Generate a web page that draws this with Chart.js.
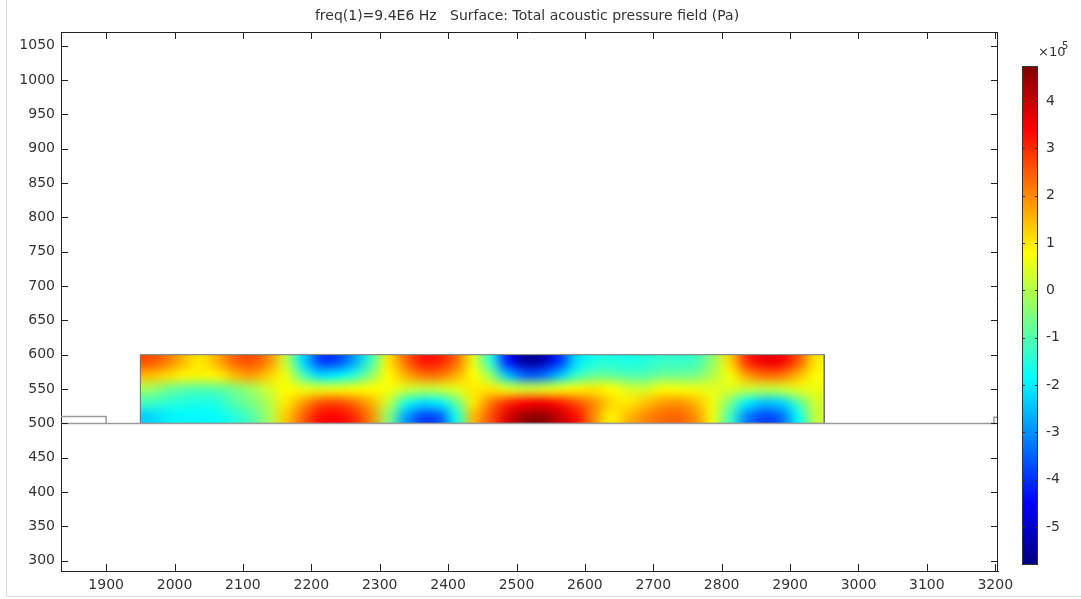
<!DOCTYPE html>
<html>
<head>
<meta charset="utf-8">
<script src="https://cdn.jsdelivr.net/npm/chart.js@4/dist/chart.umd.min.js"></script>
<style>
  body { margin: 0; background: #fff; }
  #wrap { position: relative; width: 1081px; height: 599px; overflow: hidden; }
  #frame { position: absolute; left: 6px; top: 0; width: 1075px; height: 597px;
           border-left: 1px solid #dcdcdc; border-bottom: 1px solid #dcdcdc; box-sizing: border-box; }
  #mainChart { position: absolute; left: 0; top: 0; }
  #cbChart { position: absolute; left: 1000px; top: 0; }
</style>
</head>
<body>
<div id="wrap">
  <div id="frame"></div>
  <canvas id="mainChart" width="1081" height="599"></canvas>
  <canvas id="cbChart" width="81" height="599"></canvas>
</div>
<script>
// axis ticks
const xTicks = [1900, 2000, 2100, 2200, 2300, 2400, 2500, 2600, 2700, 2800, 2900, 3000, 3100, 3200];
const yTicks = [300, 350, 400, 450, 500, 550, 600, 650, 700, 750, 800, 850, 900, 950, 1000, 1050];
const cbTicks = [-5, -4, -3, -2, -1, 0, 1, 2, 3, 4];

// pressure field samples (x1e5 Pa), cell centres in x and y
const colCenters = [1962.5, 1987.5, 2012.5, 2037.5, 2062.5, 2087.5, 2112.5, 2137.5, 2162.5, 2187.5,
                    2212.5, 2237.5, 2262.5, 2287.5, 2312.5, 2337.5, 2362.5, 2387.5, 2412.5, 2437.5,
                    2462.5, 2487.5, 2512.5, 2537.5, 2562.5, 2587.5, 2612.5, 2637.5, 2662.5, 2687.5,
                    2712.5, 2737.5, 2762.5, 2787.5, 2812.5, 2837.5, 2862.5, 2887.5, 2912.5, 2937.5];
const rowCenters = [590, 570, 550, 530, 510];

const p590 = [2.6, 2.2, 1.5, 1.0, 1.6, 2.4, 2.6, 2.0, 0.2, -2.2, -3.8, -3.8, -2.8, -1.2, 1.0, 2.3, 3.2, 3.1, 2.3, 0.5,
              -1.4, -4.2, -5.5, -5.3, -4.0, -2.2, -1.6, -1.5, -1.6, -1.5, -1.3, -1.3, -1.2, -0.3, 1.2, 3.0, 3.6, 3.5, 2.5, 1.0];
const p570 = [1.5, 1.2, 0.9, 0.9, 0.9, 1.5, 1.8, 1.3, 0.6, -1.0, -2.2, -2.0, -1.4, -0.4, 0.8, 1.6, 2.2, 2.2, 1.6, 0.8,
              -0.3, -2.5, -3.5, -3.4, -2.5, -1.3, -0.8, -0.8, -1.0, -1.0, -0.7, -0.7, -0.6, 0.0, 0.7, 1.8, 2.3, 2.2, 1.5, 0.8];
const p550 = [-0.2, -0.6, -0.9, -1.0, -0.9, -0.6, -0.2, 0.3, 0.8, 0.6, 0.5, 0.6, 0.7, 0.8, 0.7, 0.3, 0.1, 0.2, 0.5, 1.0,
              1.0, 0.5, 0.3, 0.4, 0.6, 0.9, 1.0, 0.8, 0.4, 0.3, 0.7, 0.7, 0.6, 0.5, 0.4, 0.2, 0.1, 0.2, 0.5, 0.6];
const p530 = [-1.2, -1.4, -1.5, -1.6, -1.5, -1.0, -0.6, 0.0, 1.0, 1.8, 2.6, 2.7, 2.3, 1.6, 0.2, -1.5, -2.2, -2.0, -0.8, 1.0,
              2.2, 3.0, 3.4, 3.5, 3.2, 2.6, 2.0, 1.2, 1.0, 1.4, 1.8, 1.9, 1.5, 0.6, -0.6, -2.0, -2.5, -2.3, -1.0, 0.3];
const p510 = [-2.3, -2.0, -1.9, -1.9, -1.8, -1.5, -1.0, -0.2, 1.3, 2.4, 3.3, 3.4, 3.0, 2.0, -0.4, -2.8, -3.8, -3.6, -1.6, 1.5,
              2.6, 3.8, 4.5, 4.6, 4.0, 3.3, 2.0, 0.9, 1.5, 2.0, 2.3, 2.4, 1.9, 0.6, -1.2, -3.2, -3.8, -3.4, -1.8, 0.2];
const fieldRows = [p590, p570, p550, p530, p510];

// colour range of the legend (x1e5 Pa)
const cMin = -5.8, cMax = 4.74;

// geometry outlines
const domainX = [1950, 1950, 2950, 2950, 1950];
const domainY = [500, 600, 600, 500, 500];
const baseX = [1834, 3204];
const baseY = [500, 500];
const inletX = [1834, 1900, 1900];
const inletY = [510, 510, 500];
const outletX = [3198, 3198, 3204];
const outletY = [500, 509, 509];

Chart.defaults.font.family = '"DejaVu Sans", sans-serif';
Chart.defaults.font.size = 14;
Chart.defaults.color = '#333';

function jet(v) {
    const t = Math.min(1, Math.max(0, (v - cMin) / (cMax - cMin)));
    const c = k => Math.round(255 * Math.min(1, Math.max(0, 1.5 - Math.abs(4 * t - k))));
    return [c(3), c(2), c(1)];
}

const pts = (xs, ys) => xs.map((x, i) => ({ x: x, y: ys[i] }));

// small image of the field, one pixel per cell
const fieldImg = document.createElement('canvas');
fieldImg.width = colCenters.length;
fieldImg.height = rowCenters.length;
(() => {
    const g = fieldImg.getContext('2d');
    const img = g.createImageData(fieldImg.width, fieldImg.height);
    fieldRows.forEach((row, r) => row.forEach((v, c) => {
        const [R, G, B] = jet(v);
        const k = (r * fieldImg.width + c) * 4;
        img.data[k] = R; img.data[k + 1] = G; img.data[k + 2] = B; img.data[k + 3] = 255;
    }));
    g.putImageData(img, 0, 0);
})();

const fieldPlugin = {
    id: 'field',
    beforeDatasetsDraw(chart) {
        const { ctx, scales: { x, y } } = chart;
        const hx = (colCenters[1] - colCenters[0]) / 2;
        const hy = (rowCenters[0] - rowCenters[1]) / 2;
        const x0 = x.getPixelForValue(colCenters[0] - hx);
        const x1 = x.getPixelForValue(colCenters[colCenters.length - 1] + hx);
        const y0 = y.getPixelForValue(rowCenters[0] + hy);
        const y1 = y.getPixelForValue(rowCenters[rowCenters.length - 1] - hy);
        ctx.save();
        ctx.imageSmoothingEnabled = true;
        ctx.imageSmoothingQuality = 'high';
        ctx.drawImage(fieldImg, x0, y0, x1 - x0, y1 - y0);
        ctx.restore();
    }
};

const frameTicks = {
    id: 'frameTicks',
    afterDraw(chart) {
        const { ctx, chartArea: a, scales: { x, y } } = chart;
        ctx.save();
        ctx.strokeStyle = '#222';
        ctx.lineWidth = 1;
        ctx.beginPath();
        ctx.moveTo(a.left, a.top + 0.5); ctx.lineTo(a.right, a.top + 0.5);
        ctx.moveTo(a.right - 0.5, a.top); ctx.lineTo(a.right - 0.5, a.bottom);
        x.ticks.forEach(t => {
            const px = Math.round(x.getPixelForValue(t.value)) + 0.5;
            ctx.moveTo(px, a.bottom); ctx.lineTo(px, a.bottom - 7);
            ctx.moveTo(px, a.top); ctx.lineTo(px, a.top + 7);
        });
        y.ticks.forEach(t => {
            const py = Math.round(y.getPixelForValue(t.value)) + 0.5;
            ctx.moveTo(a.left, py); ctx.lineTo(a.left + 7, py);
            ctx.moveTo(a.right, py); ctx.lineTo(a.right - 7, py);
        });
        ctx.stroke();
        // title
        ctx.fillStyle = '#333';
        ctx.font = '14px "DejaVu Sans", sans-serif';
        ctx.textAlign = 'center';
        ctx.textBaseline = 'middle';
        ctx.fillText('freq(1)=9.4E6 Hz   Surface: Total acoustic pressure field (Pa)', 527, 16);
        ctx.restore();
    }
};

const line = (data, color, width) => ({
    data: data, showLine: true, pointRadius: 0, borderColor: color, borderWidth: width, fill: false
});

new Chart(document.getElementById('mainChart'), {
    type: 'scatter',
    data: {
        datasets: [
            line(pts(baseX, baseY), '#9a9a9a', 1.5),
            line(pts(inletX, inletY), '#9a9a9a', 1.5),
            line(pts(outletX, outletY), '#9a9a9a', 1.5),
            line(pts(domainX, domainY), '#707070', 1)
        ]
    },
    options: {
        responsive: false,
        animation: false,
        layout: { padding: { left: 0, top: 32, right: 83, bottom: 0 } },
        plugins: { legend: { display: false }, tooltip: { enabled: false } },
        scales: {
            x: {
                type: 'linear', min: 1834, max: 3204,
                grid: { display: false, drawTicks: false },
                border: { display: true, color: '#222' },
                ticks: { padding: 6, callback: v => String(v) },
                afterBuildTicks: s => { s.ticks = xTicks.map(v => ({ value: v })); },
                afterFit: s => { s.height = 28; }
            },
            y: {
                type: 'linear', min: 285, max: 1070,
                grid: { display: false, drawTicks: false },
                border: { display: true, color: '#222' },
                ticks: { padding: 6, callback: v => String(v) },
                afterBuildTicks: s => { s.ticks = yTicks.map(v => ({ value: v })); },
                afterFit: s => { s.width = 61; }
            }
        }
    },
    plugins: [fieldPlugin, frameTicks]
});

// colour legend
const cbPlugin = {
    id: 'cbar',
    beforeDatasetsDraw(chart) {
        const { ctx, chartArea: a, scales: { y } } = chart;
        const yb = y.getPixelForValue(cMin), yt = y.getPixelForValue(cMax);
        const grad = ctx.createLinearGradient(0, yb, 0, yt);
        for (let i = 0; i <= 40; i++) {
            const [r, g, b] = jet(cMin + (cMax - cMin) * i / 40);
            grad.addColorStop(i / 40, `rgb(${r},${g},${b})`);
        }
        ctx.save();
        ctx.fillStyle = grad;
        ctx.fillRect(a.left, yt, a.right - a.left, yb - yt);
        ctx.strokeStyle = '#333';
        ctx.lineWidth = 1;
        ctx.strokeRect(a.left + 0.5, yt + 0.5, a.right - a.left - 1, yb - yt - 1);
        ctx.beginPath();
        y.ticks.forEach(t => {
            const py = Math.round(y.getPixelForValue(t.value)) + 0.5;
            ctx.moveTo(a.left, py); ctx.lineTo(a.left + 3, py);
            ctx.moveTo(a.right, py); ctx.lineTo(a.right - 3, py);
        });
        ctx.stroke();
        ctx.fillStyle = '#333';
        ctx.textBaseline = 'alphabetic';
        ctx.textAlign = 'left';
        ctx.font = '13px "DejaVu Sans", sans-serif';
        ctx.fillText('\u00d710', 38, 56);
        ctx.font = '10px "DejaVu Sans", sans-serif';
        ctx.fillText('5', 62, 49);
        ctx.restore();
    }
};

new Chart(document.getElementById('cbChart'), {
    type: 'scatter',
    data: { datasets: [{ data: [] }] },
    options: {
        responsive: false,
        animation: false,
        layout: { padding: { left: 22, top: 66, right: 0, bottom: 34 } },
        plugins: { legend: { display: false }, tooltip: { enabled: false } },
        scales: {
            x: { display: false, min: 0, max: 1 },
            y: {
                position: 'right', type: 'linear', min: cMin, max: cMax,
                grid: { display: false, drawTicks: false },
                border: { display: false },
                ticks: { padding: 8 },
                afterBuildTicks: s => { s.ticks = cbTicks.map(v => ({ value: v })); },
                afterFit: s => { s.width = 43; }
            }
        }
    },
    plugins: [cbPlugin]
});
</script>
</body>
</html>
